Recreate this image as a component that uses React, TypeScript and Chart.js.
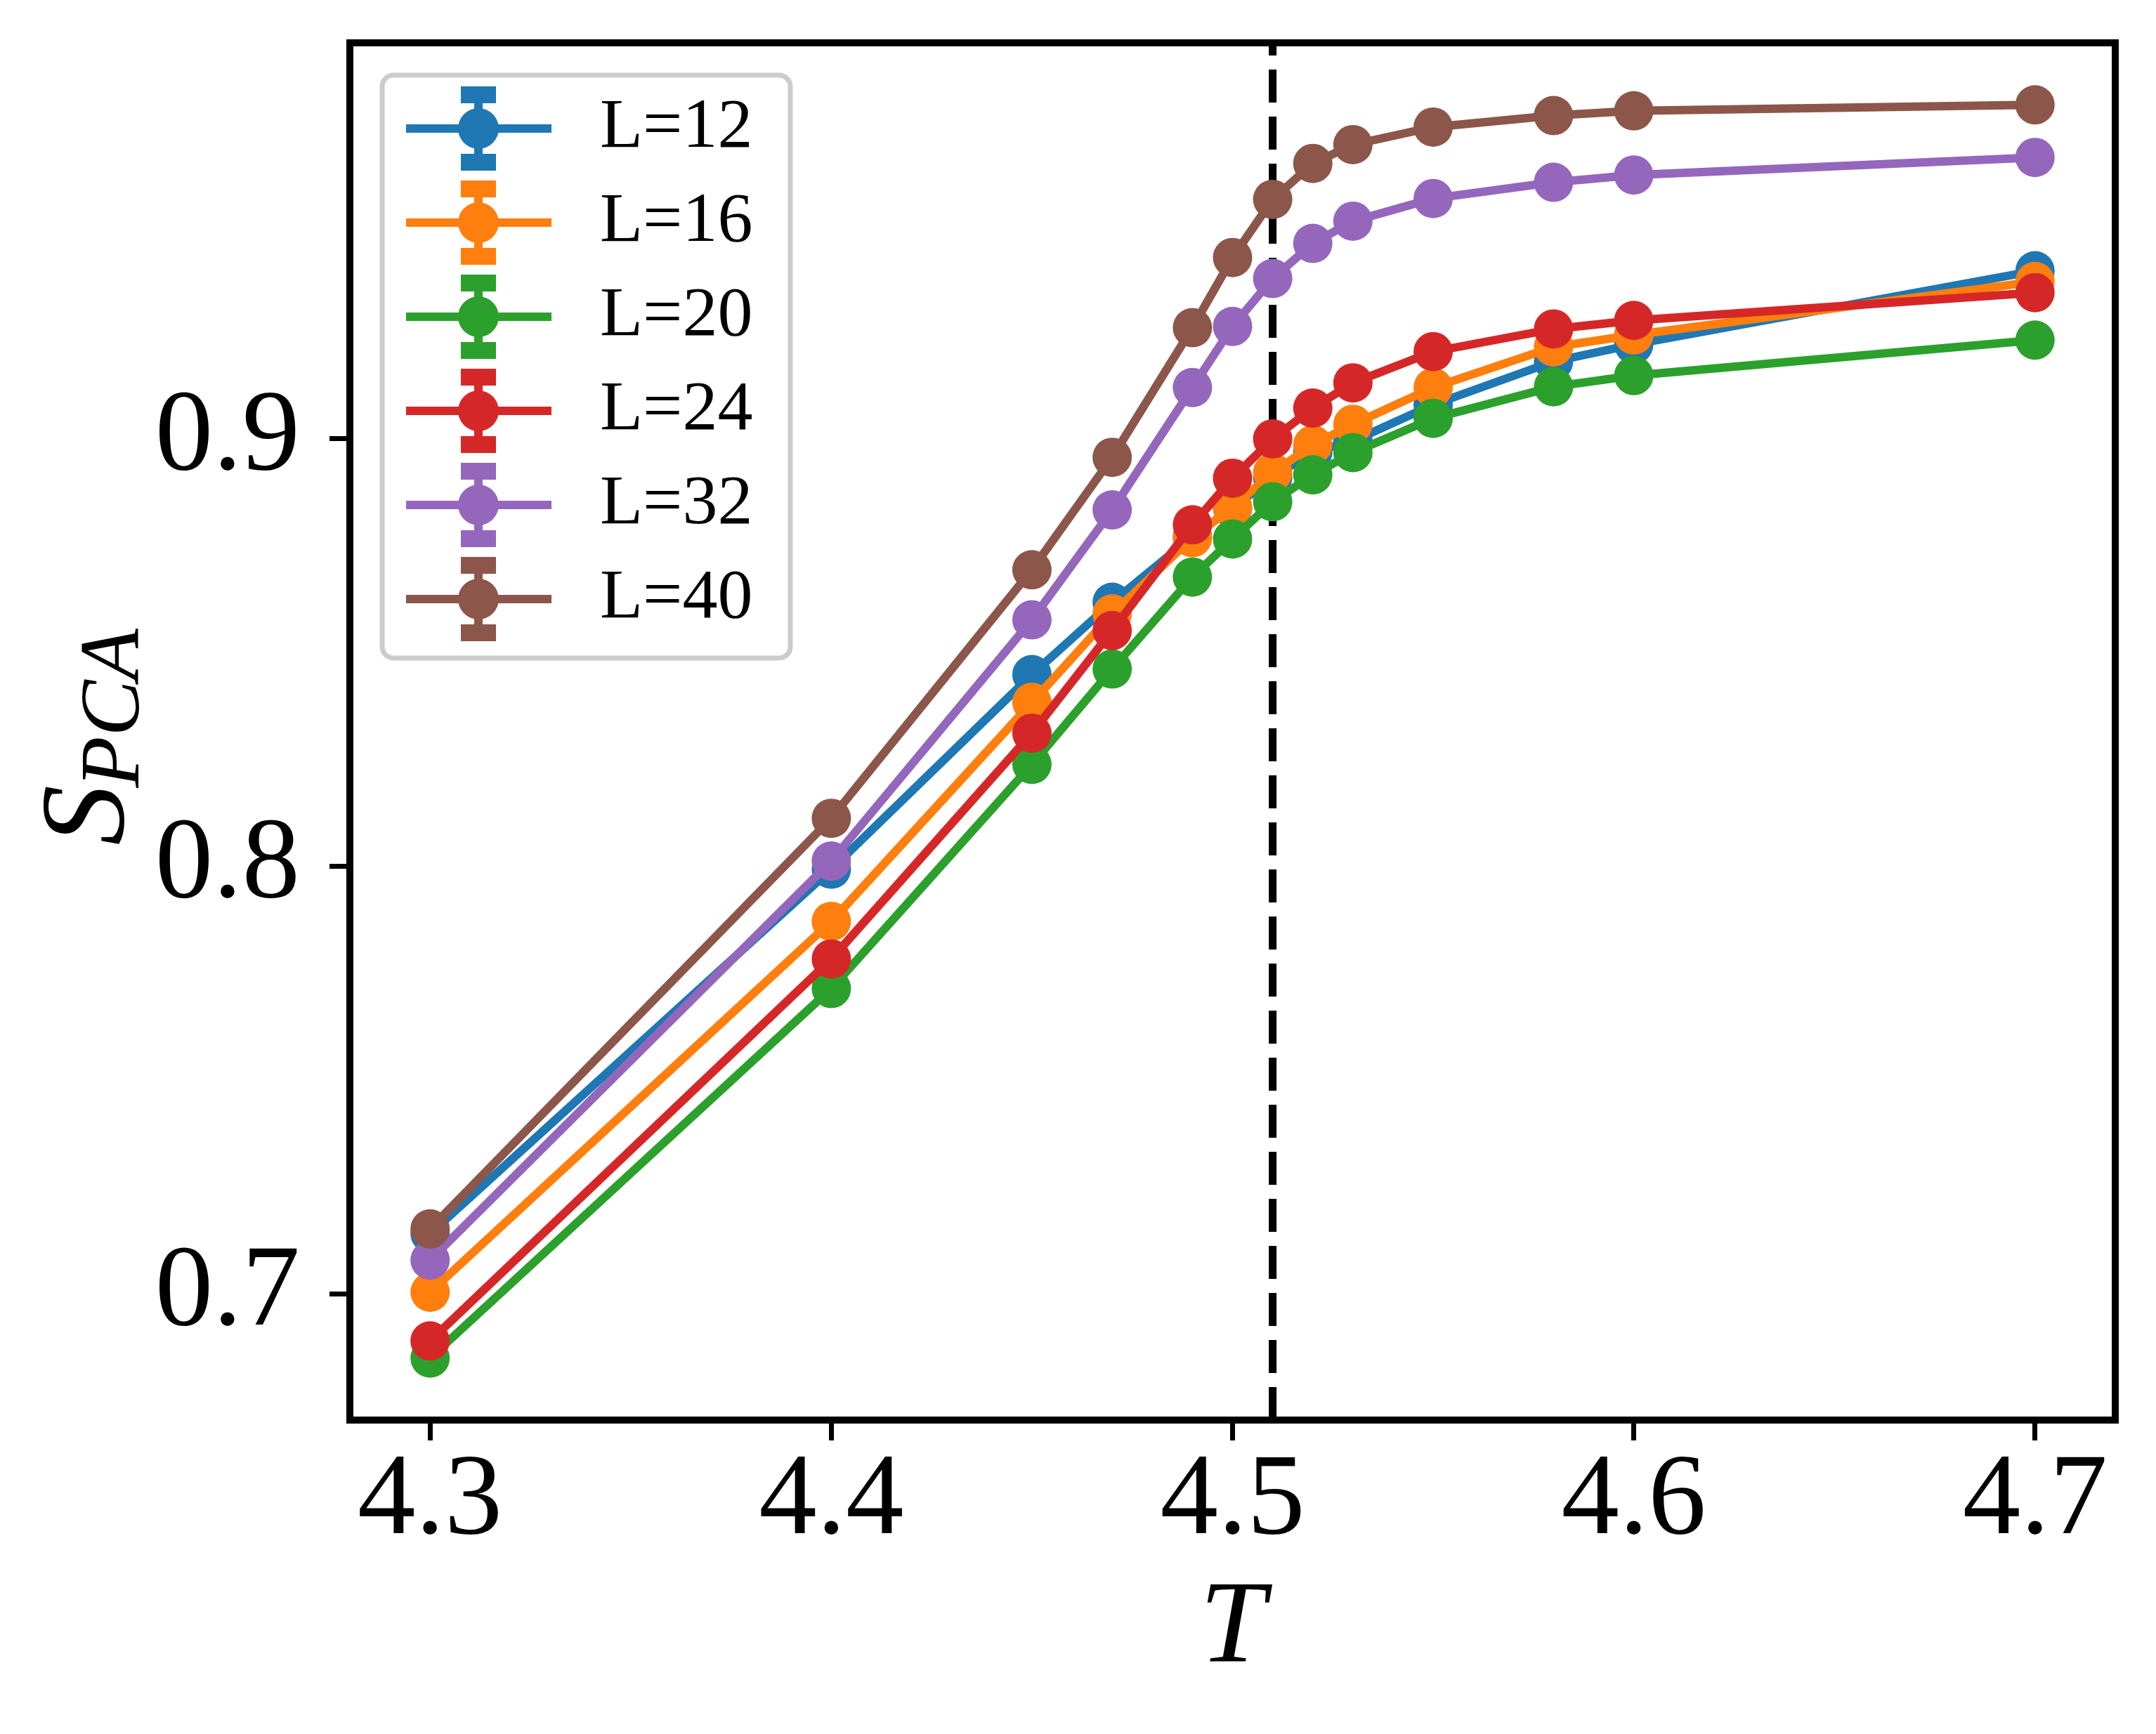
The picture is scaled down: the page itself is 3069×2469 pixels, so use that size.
import React, { useEffect, useRef } from 'react';
import { Chart, registerables } from 'chart.js';

Chart.register(...registerables);

// temperature grid
const temps = [4.3, 4.4, 4.45, 4.47, 4.49, 4.5, 4.51, 4.52, 4.53, 4.55, 4.58, 4.6, 4.7];

// S_PCA per lattice size
const sL12 = [0.7142, 0.7994, 0.8449, 0.8618, 0.8772, 0.8838, 0.8910, 0.8970, 0.8995, 0.9080, 0.9181, 0.9221, 0.9393];
const sL16 = [0.7005, 0.7872, 0.8384, 0.8591, 0.8769, 0.8840, 0.8921, 0.8986, 0.9034, 0.9120, 0.9215, 0.9243, 0.9368];
const sL20 = [0.6851, 0.7715, 0.8239, 0.8462, 0.8677, 0.8766, 0.8853, 0.8916, 0.8968, 0.9048, 0.9122, 0.9148, 0.9231];
const sL24 = [0.6891, 0.7784, 0.8312, 0.8552, 0.8799, 0.8908, 0.9000, 0.9072, 0.9131, 0.9204, 0.9257, 0.9277, 0.9342];
const sL32 = [0.7080, 0.8013, 0.8577, 0.8834, 0.9120, 0.9263, 0.9375, 0.9457, 0.9509, 0.9562, 0.9600, 0.9617, 0.9658];
const sL40 = [0.7153, 0.8113, 0.8694, 0.8957, 0.9260, 0.9424, 0.9560, 0.9644, 0.9688, 0.9729, 0.9756, 0.9767, 0.9781];

const seriesLabels = ['L=12', 'L=16', 'L=20', 'L=24', 'L=32', 'L=40'];
const seriesColors = ['#1f77b4', '#ff7f0e', '#2ca02c', '#d62728', '#9467bd', '#8c564b'];

const xTicks = [4.3, 4.4, 4.5, 4.6, 4.7];
const yTicks = [0.7, 0.8, 0.9];
const tCrit = 4.51;

const FONT = "'Liberation Serif', 'Times New Roman', serif";
const W = 3069;
const H = 2469;

// dashed vertical line at the critical temperature, behind the data
const critLine = {
  id: 'critLine',
  beforeDatasetsDraw(chart: any) {
    const { ctx, chartArea, scales } = chart;
    const x = scales.x.getPixelForValue(tCrit);
    ctx.save();
    ctx.strokeStyle = '#000';
    ctx.lineWidth = 11;
    ctx.setLineDash([47, 20]);
    ctx.beginPath();
    ctx.moveTo(x, chartArea.bottom);
    ctx.lineTo(x, chartArea.top);
    ctx.stroke();
    ctx.restore();
  },
};

// box frame, errorbar-style legend and the y label with subscript
const decorations = {
  id: 'decorations',
  afterDatasetsDraw(chart: any) {
    const { ctx, chartArea } = chart;
    ctx.save();
    ctx.strokeStyle = '#000';
    ctx.lineWidth = 10;
    ctx.strokeRect(chartArea.left, chartArea.top, chartArea.right - chartArea.left, chartArea.bottom - chartArea.top);
    ctx.restore();
  },
  afterDraw(chart: any) {
    const { ctx, chartArea } = chart;

    // legend
    const bx = chartArea.left + 46;
    const by = chartArea.top + 46;
    ctx.save();
    ctx.fillStyle = 'rgba(255,255,255,0.8)';
    ctx.strokeStyle = '#cccccc';
    ctx.lineWidth = 7;
    ctx.beginPath();
    ctx.roundRect(bx, by, 581, 830, 16);
    ctx.fill();
    ctx.stroke();
    chart.data.datasets.forEach((ds: any, i: number) => {
      const y = by + 76 + i * 134;
      const mx = bx + 137;
      ctx.strokeStyle = ds.borderColor;
      ctx.fillStyle = ds.borderColor;
      ctx.lineWidth = 12;
      ctx.beginPath();
      ctx.moveTo(bx + 34, y);
      ctx.lineTo(bx + 241, y);
      ctx.moveTo(mx, y - 48);
      ctx.lineTo(mx, y + 48);
      ctx.stroke();
      ctx.fillRect(mx - 25, y - 60, 50, 24);
      ctx.fillRect(mx - 25, y + 36, 50, 24);
      ctx.beginPath();
      ctx.arc(mx, y, 29, 0, Math.PI * 2);
      ctx.fill();
      ctx.fillStyle = '#000';
      ctx.font = `100px ${FONT}`;
      ctx.textBaseline = 'middle';
      ctx.textAlign = 'left';
      ctx.fillText(ds.label, bx + 310, y);
    });
    ctx.restore();

    // y axis title S_PCA
    ctx.save();
    ctx.fillStyle = '#000';
    const big = `italic 172px ${FONT}`;
    const small = `italic 120px ${FONT}`;
    ctx.font = big;
    const wS = ctx.measureText('S').width;
    ctx.font = small;
    const wSub = ctx.measureText('PCA').width;
    const cy = (chartArea.top + chartArea.bottom) / 2 + 6;
    ctx.translate(chartArea.left - 323, cy + (wS + wSub) / 2);
    ctx.rotate(-Math.PI / 2);
    ctx.textAlign = 'left';
    ctx.textBaseline = 'alphabetic';
    ctx.font = big;
    ctx.fillText('S', 0, 0);
    ctx.font = small;
    ctx.fillText('PCA', wS - 4, 22);
    ctx.restore();
  },
};

const PcaChart = () => {
  const chartRef = useRef<HTMLCanvasElement>(null);
  const chartInstanceRef = useRef<Chart | null>(null);

  useEffect(() => {
    document.body.style.margin = '0';
    const canvas = chartRef.current;
    if (!canvas) return;
    const ctx = canvas.getContext('2d');
    if (!ctx) return;

    Chart.defaults.font.family = FONT;
    Chart.defaults.color = '#000';

    const series = [sL12, sL16, sL20, sL24, sL32, sL40];

    chartInstanceRef.current = new Chart(ctx, {
      type: 'line',
      data: {
        datasets: series.map((vals, i) => ({
          label: seriesLabels[i],
          data: temps.map((t, j) => ({ x: t, y: vals[j] })),
          borderColor: seriesColors[i],
          backgroundColor: seriesColors[i],
          borderWidth: 12,
          pointRadius: 28,
          pointBorderWidth: 0,
          pointBackgroundColor: seriesColors[i],
          tension: 0,
          fill: false,
          order: series.length - i,
        })),
      },
      options: {
        responsive: false,
        devicePixelRatio: 1,
        animation: false,
        events: [],
        layout: { padding: { top: 61, right: 58, left: 0, bottom: 0 } },
        plugins: {
          legend: { display: false },
          tooltip: { enabled: false },
        },
        scales: {
          x: {
            type: 'linear',
            min: 4.28,
            max: 4.72,
            afterBuildTicks: (s: any) => { s.ticks = xTicks.map((v) => ({ value: v })); },
            afterFit: (s: any) => { s.height = 447; s.paddingLeft = 0; s.paddingRight = 0; },
            border: { display: false },
            grid: { drawOnChartArea: false, drawTicks: true, tickLength: 29, tickWidth: 7, tickColor: '#000' },
            ticks: {
              color: '#000',
              padding: 0,
              autoSkip: false,
              maxRotation: 0,
              font: { family: FONT, size: 165, lineHeight: 1.08 },
              callback: (v: any) => Number(v).toFixed(1),
            },
            title: {
              display: true,
              text: 'T',
              color: '#000',
              font: { family: FONT, size: 168, style: 'italic', lineHeight: 1.2 },
              padding: { top: 0, bottom: 46 },
            },
          },
          y: {
            type: 'linear',
            min: 0.6706,
            max: 0.9926,
            afterBuildTicks: (s: any) => { s.ticks = yTicks.map((v) => ({ value: v })); },
            afterFit: (s: any) => { s.width = 498; s.paddingTop = 0; s.paddingBottom = 0; },
            border: { display: false },
            grid: { drawOnChartArea: false, drawTicks: true, tickLength: 29, tickWidth: 7, tickColor: '#000' },
            ticks: {
              color: '#000',
              padding: 42,
              autoSkip: false,
              font: { family: FONT, size: 165 },
              callback: (v: any) => Number(v).toFixed(1),
            },
          },
        },
      },
      plugins: [critLine, decorations],
    });

    return () => {
      if (chartInstanceRef.current) {
        chartInstanceRef.current.destroy();
      }
    };
  }, []);

  return (
    <div style={{ width: W, height: H, background: '#fff' }}>
      <canvas ref={chartRef} width={W} height={H} style={{ display: 'block' }}></canvas>
    </div>
  );
};

export default function App() {
  return <PcaChart />;
}
